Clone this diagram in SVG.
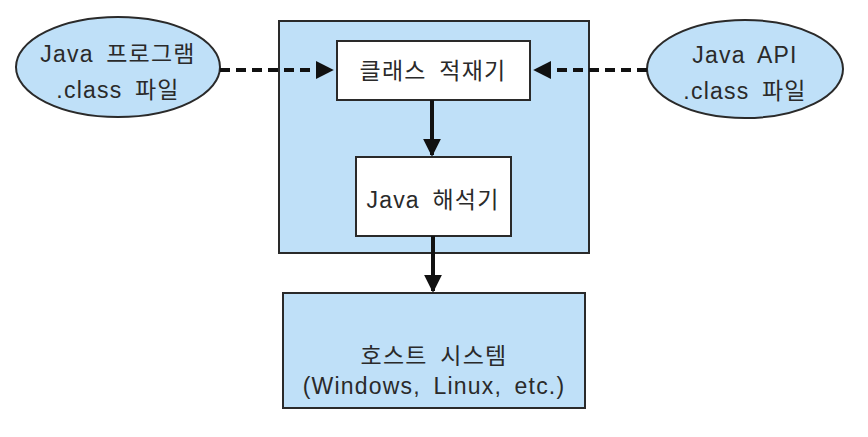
<svg xmlns="http://www.w3.org/2000/svg" width="868" height="437" viewBox="0 0 868 437">
<style>
.blue{fill:#bfe0f8;stroke:#2a2a2a;stroke-width:2}
.white{fill:#fff;stroke:#2a2a2a;stroke-width:2}
text{font-family:"Liberation Sans","Noto Sans CJK KR",sans-serif;font-size:23px;fill:#2a2a2a;text-anchor:middle;letter-spacing:1.2px;word-spacing:5px}
.dash{stroke:#111;stroke-width:4;stroke-dasharray:10,6;fill:none}
.solid{stroke:#111;stroke-width:4;fill:none}
</style>
<defs>
<marker id="ah" viewBox="0 0 10 10" refX="9" refY="5" markerWidth="4.5" markerHeight="4.5" orient="auto" markerUnits="strokeWidth">
<path d="M0,0 L10,5 L0,10 z" fill="#111"/>
</marker>
</defs>
<rect width="868" height="437" fill="#fff"/>
<g id="jvm"><rect class="blue" x="279" y="21" width="310" height="232"/></g>
<g id="left-file"><ellipse class="blue" cx="118" cy="67" rx="102" ry="50"/>
<text x="118" y="62">Java 프로그램</text><text x="118" y="98">.class 파일</text></g>
<g id="right-file"><ellipse class="blue" cx="745" cy="69" rx="98" ry="49"/>
<text x="745" y="63">Java API</text><text x="745" y="99">.class 파일</text></g>
<g id="loader"><rect class="white" x="337" y="41" width="193" height="59"/>
<text x="433" y="79">클래스 적재기</text></g>
<g id="interp"><rect class="white" x="356" y="157" width="155" height="79"/>
<text x="433" y="208">Java 해석기</text></g>
<g id="host"><rect class="blue" x="283" y="293" width="302" height="115"/>
<text x="434" y="364">호스트 시스템</text><text x="434" y="394">(Windows, Linux, etc.)</text></g>
<g id="connectors">
<line class="dash" x1="220" y1="70" x2="332" y2="70" marker-end="url(#ah)"/>
<line class="dash" x1="647" y1="70" x2="535" y2="70" marker-end="url(#ah)"/>
<line class="solid" x1="432" y1="100" x2="432" y2="155" marker-end="url(#ah)"/>
<line class="solid" x1="433" y1="236" x2="433" y2="291" marker-end="url(#ah)"/>
</g>
</svg>
